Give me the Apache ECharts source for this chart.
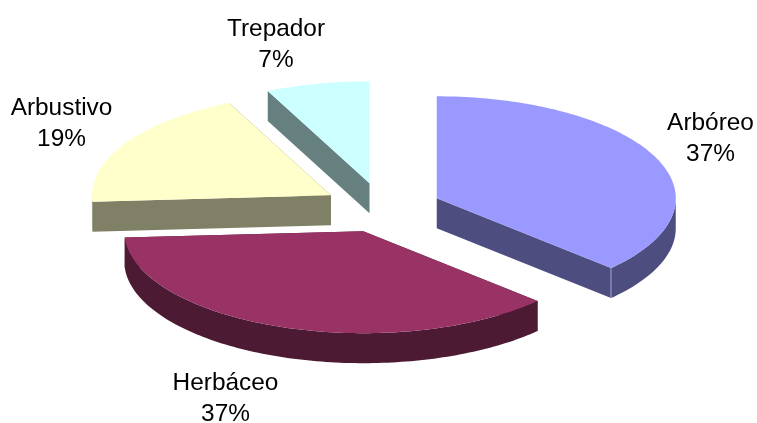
<!DOCTYPE html>
<html>
<head>
<meta charset="utf-8">
<style>
  html, body { margin: 0; padding: 0; background: #fff; }
  #chart { width: 757px; height: 423px; }
</style>
</head>
<body>
<div id="chart"></div>
<script src="https://cdn.jsdelivr.net/npm/echarts@6/dist/echarts.min.js"></script>
<script>
var categories = ["Arbóreo", "Herbáceo", "Arbustivo", "Trepador"];
var values = [37, 37, 19, 7];

var topColors = ["#9999ff", "#993366", "#ffffcc", "#ccffff"];
var wallColors = ["#4d4d80", "#4d1a33", "#808066", "#668080"];
// centre of each two line label
var labelX = [710.5, 225.5, 61.5, 276];
var labelY = [139, 398.5, 124, 44.5];
// how far each slice is pulled out of the pie
var explode = [59, 57, 60, 60];

// projection of the tilted pie
var cx = 382.6, cy = 208.3, rx = 239, ry = 102, depth = 30;

var total = values.reduce(function (a, b) { return a + b; }, 0);

function pt(c, angle, r, dy) {
  // angle runs clockwise from 12 o'clock
  return [
    c[0] + r * rx * Math.sin(angle),
    c[1] - r * ry * Math.cos(angle) + (dy || 0)
  ];
}

function arc(c, a0, a1, dy) {
  var pts = [];
  var n = Math.max(2, Math.ceil(Math.abs(a1 - a0) / 0.02));
  for (var i = 0; i <= n; i++) {
    pts.push(pt(c, a0 + (a1 - a0) * i / n, 1, dy));
  }
  return pts;
}

function poly(points, color) {
  return { type: "polygon", shape: { points: points }, style: { fill: color } };
}

function renderSlice(params, api) {
  var i = api.value(0);
  var before = 0;
  for (var k = 0; k < i; k++) before += values[k];
  var a0 = before / total * Math.PI * 2;
  var a1 = (before + api.value(1)) / total * Math.PI * 2;
  var mid = (a0 + a1) / 2;
  // pt scales both axes by r, which keeps the offset on the tilted plane
  var c = pt([cx, cy], mid, explode[i] / rx);
  var wall = wallColors[i];
  var kids = [];

  // radial walls, the hidden ones end up under the top face
  [a0, a1].forEach(function (a) {
    var p = pt(c, a, 1);
    var q = pt(c, a, 1, depth);
    kids.push(poly([c, p, q, [c[0], c[1] + depth]], wall));
  });

  // outer wall, only the front half of the rim can be seen
  var f0 = Math.max(a0, Math.PI / 2);
  var f1 = Math.min(a1, Math.PI * 1.5);
  if (f1 > f0) {
    kids.push(poly(arc(c, f0, f1, 0).concat(arc(c, f1, f0, depth)), wall));
  }

  // thin highlight where radial wall meets the rim
  if (a1 > Math.PI / 2 && a1 < Math.PI) {
    kids.push({
      type: "line",
      shape: {
        x1: pt(c, a1, 1)[0], y1: pt(c, a1, 1)[1],
        x2: pt(c, a1, 1)[0], y2: pt(c, a1, 1, depth)[1]
      },
      style: { stroke: "#a9a9d6", lineWidth: 1 }
    });
  }

  kids.push(poly([c].concat(arc(c, a0, a1, 0)), topColors[i]));

  kids.push({
    type: "text",
    style: {
      x: labelX[i],
      y: labelY[i],
      text: categories[i] + "\n" + api.value(1) + "%",
      fill: "#000",
      font: "24.4px 'Liberation Sans', Arial, sans-serif",
      lineHeight: 31,
      align: "center",
      verticalAlign: "middle"
    }
  });

  return { type: "group", children: kids };
}

var chart = echarts.init(document.getElementById("chart"), null, { renderer: "canvas" });
chart.setOption({
  animation: false,
  backgroundColor: "#fff",
  series: [{
    type: "custom",
    coordinateSystem: "none",
    silent: true,
    renderItem: renderSlice,
    data: values.map(function (v, i) { return [i, v]; })
  }]
});
</script>
</body>
</html>
